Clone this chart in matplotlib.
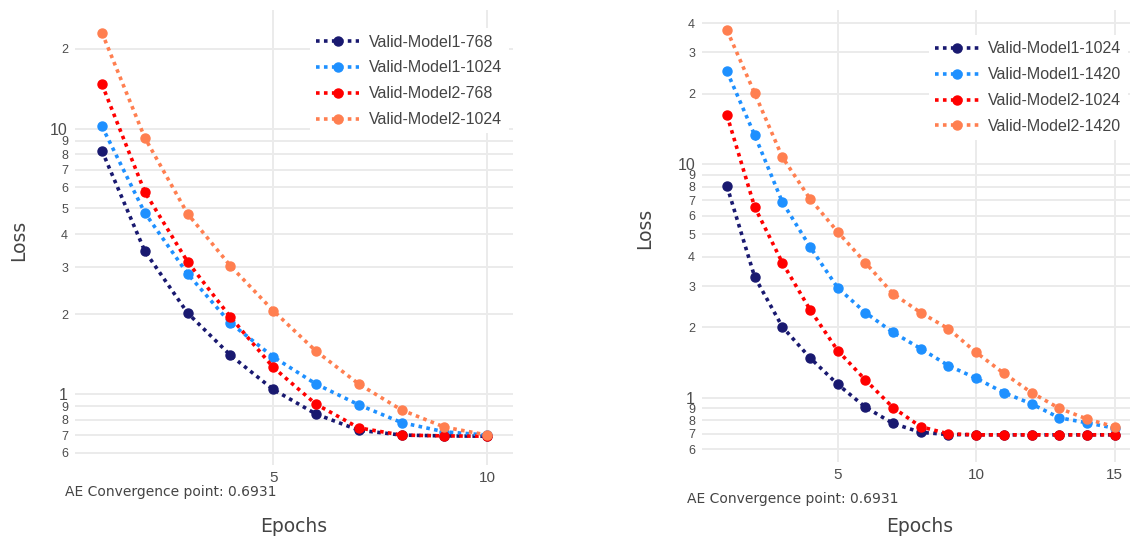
#!/usr/bin/python

import numpy as np
import matplotlib.pyplot as plt

# epochs
ep_left = [1, 2, 3, 4, 5, 6, 7, 8, 9, 10]
ep_right = [1, 2, 3, 4, 5, 6, 7, 8, 9, 10, 11, 12, 13, 14, 15]

# left panel (768 / 1024)
m1_768 = [8.26, 3.46, 2.02, 1.40, 1.04, 0.84, 0.73, 0.70, 0.695, 0.693]
m1_1024_l = [10.2, 4.82, 2.84, 1.85, 1.38, 1.09, 0.91, 0.78, 0.72, 0.70]
m2_768 = [14.7, 5.78, 3.15, 1.95, 1.26, 0.915, 0.745, 0.70, 0.695, 0.693]
m2_1024_l = [23.0, 9.25, 4.78, 3.04, 2.06, 1.45, 1.09, 0.87, 0.75, 0.70]

# right panel (1024 / 1420)
m1_1024_r = [8.05, 3.29, 2.01, 1.48, 1.14, 0.91, 0.775, 0.71, 0.695, 0.693,
             0.693, 0.693, 0.693, 0.693, 0.693]
m1_1420 = [24.9, 13.3, 6.87, 4.42, 2.95, 2.31, 1.90, 1.62, 1.37, 1.21,
           1.05, 0.94, 0.82, 0.78, 0.74]
m2_1024_r = [16.2, 6.55, 3.78, 2.38, 1.59, 1.19, 0.906, 0.75, 0.70, 0.693,
             0.693, 0.693, 0.693, 0.693, 0.693]
m2_1420 = [37.4, 20.1, 10.7, 7.09, 5.12, 3.78, 2.78, 2.31, 1.97, 1.56,
           1.27, 1.05, 0.90, 0.81, 0.75]

names_left = ["Valid-Model1-768", "Valid-Model1-1024", "Valid-Model2-768", "Valid-Model2-1024"]
names_right = ["Valid-Model1-1024", "Valid-Model1-1420", "Valid-Model2-1024", "Valid-Model2-1420"]
colors = ["#191970", "#1E90FF", "#FF0000", "#FF7F50"]

conv = 0.6931
tick_col = "#4d4d4d"
txt_col = "#444444"
grid_col = "#ebebeb"

W, H = 1135, 536
fig = plt.figure(figsize=(W / 100, H / 100), dpi=100)
axL = fig.add_axes([0.066, 0.1325, 0.386, 0.849])
axR = fig.add_axes([0.6185, 0.138, 0.377, 0.843])


def style(ax, series, eps, names, xlim, ylim, xticks, yticks, ylabels, leg_anchor):
    for ys, c, n in zip(series, colors, names):
        ax.plot(eps, ys, color=c, linestyle=(0, (1, 1.2)), linewidth=2.6,
                marker='o', markersize=6.5, label=n, zorder=3)
    ax.set_yscale('log')
    ax.set_xlim(*xlim)
    ax.set_ylim(*ylim)
    ax.set_xticks(xticks)
    ax.set_xticklabels([str(t) for t in xticks], fontsize=11, color=tick_col,
                       family='Liberation Sans')
    # decade ticks in big font, others small
    maj = [t for t in yticks if abs(np.log10(t) - round(np.log10(t))) < 1e-9]
    mnr = [t for t in yticks if t not in maj]
    ax.set_yticks(maj)
    ax.set_yticklabels([ylabels[yticks.index(t)] for t in maj], fontsize=11.5,
                       color=tick_col, family='Liberation Sans')
    ax.set_yticks(mnr, minor=True)
    ax.set_yticklabels([ylabels[yticks.index(t)] for t in mnr], minor=True,
                       fontsize=9, color=tick_col, family='Liberation Sans')
    ax.tick_params(axis='y', which='both', length=0, pad=5)
    ax.tick_params(axis='x', which='both', length=0, pad=4)
    ax.grid(True, which='both', color=grid_col, linewidth=1.4, zorder=0)
    ax.set_axisbelow(True)
    for s in ax.spines.values():
        s.set_visible(False)
    leg = ax.legend(loc='upper right', bbox_to_anchor=leg_anchor, frameon=True,
                    framealpha=1, edgecolor='white',
                    handlelength=2.7, handletextpad=0.6, labelspacing=0.68,
                    borderaxespad=0, prop={'family': 'Liberation Sans', 'size': 11.5})
    for t in leg.get_texts():
        t.set_color(txt_col)
    leg.get_frame().set_linewidth(0)


ytL = [0.6, 0.7, 0.8, 0.9, 1, 2, 3, 4, 5, 6, 7, 8, 9, 10, 20]
ylL = ['6', '7', '8', '9', '1', '2', '3', '4', '5', '6', '7', '8', '9', '10', '2']
style(axL, [m1_768, m1_1024_l, m2_768, m2_1024_l], ep_left, names_left,
      (0.37, 10.6), (0.54, 28), [5, 10], ytL, ylL, (0.99, 0.96))

ytR = [0.6, 0.7, 0.8, 0.9, 1, 2, 3, 4, 5, 6, 7, 8, 9, 10, 20, 30, 40]
ylR = ['6', '7', '8', '9', '1', '2', '3', '4', '5', '6', '7', '8', '9', '10', '2', '3', '4']
style(axR, [m1_1024_r, m1_1420, m2_1024_r, m2_1420], ep_right, names_right,
      (0.1, 15.55), (0.53, 45.5), [5, 10, 15], ytR, ylR, (0.995, 0.945))

# axis titles placed like the original
fig.text(19 / W, 1 - 240 / H, "Loss", fontsize=13.5, color=txt_col,
         rotation=90, ha='center', va='center')
fig.text(294 / W, 1 - 526 / H, "Epochs", fontsize=13.5, color=txt_col,
         ha='center', va='center')
fig.text(645 / W, 1 - 228 / H, "Loss", fontsize=13.5, color=txt_col,
         rotation=90, ha='center', va='center')
fig.text(920 / W, 1 - 526 / H, "Epochs", fontsize=13.5, color=txt_col,
         ha='center', va='center')

fig.text(65 / W, 1 - 492 / H, f"AE Convergence point: {conv}", fontsize=10,
         color=txt_col, va='center', ha='left')
fig.text(687 / W, 1 - 499 / H, f"AE Convergence point: {conv}", fontsize=10,
         color=txt_col, va='center', ha='left')

fig.savefig("out.png", dpi=100)
